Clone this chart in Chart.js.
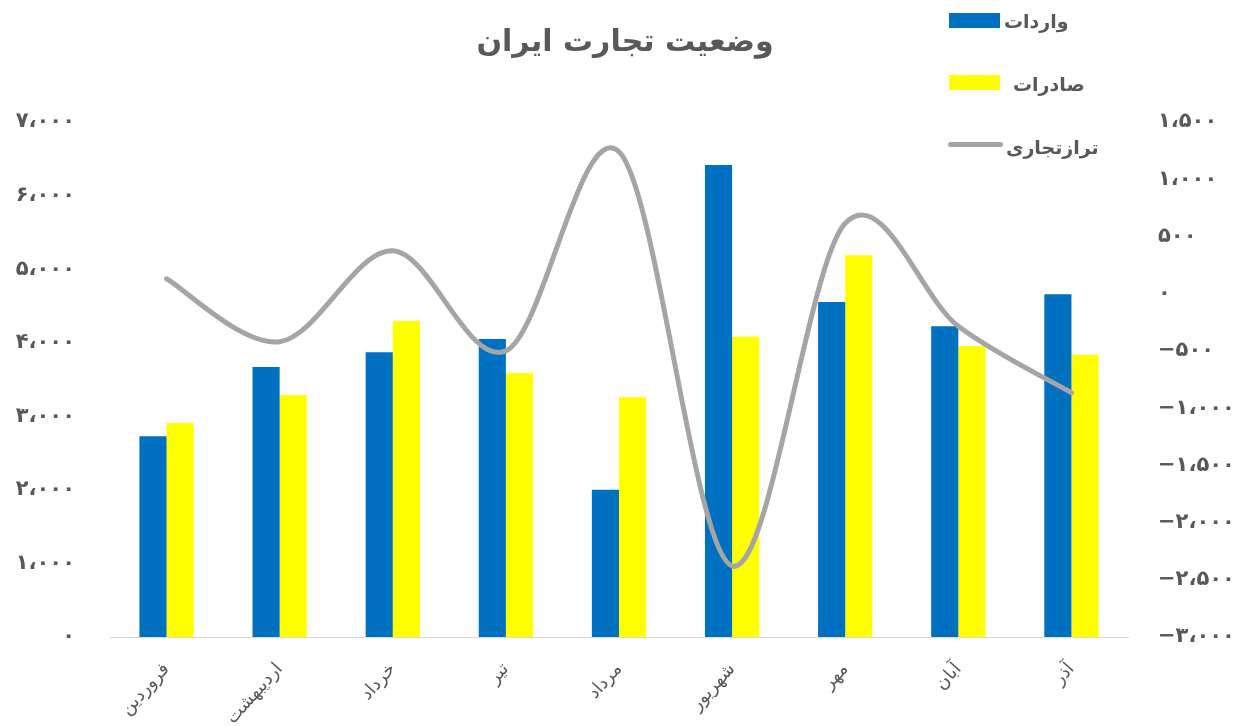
<!DOCTYPE html>
<html><head><meta charset="utf-8">
<script src="https://cdn.jsdelivr.net/npm/chart.js@4"></script>
<style>
html,body{margin:0;padding:0;background:#fff;}
#wrap{position:relative;width:1236px;height:726px;font-family:"DejaVu Sans",sans-serif;}
#title{position:absolute;left:0;width:1250px;top:23px;text-align:center;font-weight:bold;font-size:30px;color:#595959;direction:rtl;}
.lg{position:absolute;font-weight:bold;font-size:19px;color:#595959;direction:rtl;white-space:nowrap;}
.sw{position:absolute;}
canvas{position:absolute;left:0;top:0;}
</style></head>
<body><div id="wrap">
<canvas id="c" width="1236" height="726"></canvas>
<div id="title">وضعیت تجارت ایران</div>
<div class="sw" style="left:949px;top:13px;width:51px;height:15px;background:#0070C0"></div>
<div class="lg" style="left:1004px;top:10px;">واردات</div>
<div class="sw" style="left:949px;top:75px;width:51px;height:15px;background:#FFFF00"></div>
<div class="lg" style="left:1013px;top:73px;">صادرات</div>
<div class="sw" style="left:948px;top:142px;width:55px;height:5px;background:#A5A5A5;border-radius:3px"></div>
<div class="lg" style="left:1006px;top:136px;">ترازتجاری</div>
</div>
<script>
const months = ["فروردین","اردیبهشت","خرداد","تیر","مرداد","شهریور","مهر","آبان","آذر"];
const imports = [2730, 3670, 3870, 4050, 2000, 6415, 4555, 4225, 4660];
const exports_ = [2910, 3290, 4295, 3590, 3260, 4080, 5190, 3955, 3835];
const balance = [130, -420, 375, -500, 1240, -2380, 615, -285, -865];
const seriesNames = ["واردات","صادرات","ترازتجاری"];

const fa = "۰۱۲۳۴۵۶۷۸۹";
function toFa(v){
  const neg = v < 0;
  let s = Math.abs(Math.round(v)).toString();
  s = s.replace(/\B(?=(\d{3})+(?!\d))/g, "،");
  s = s.replace(/\d/g, d => fa[+d]);
  return (neg ? "−" : "") + s;
}
// Excel-like (uniform Catmull-Rom) smoothing of the line
const excelSmooth = {
  id:"excelSmooth",
  beforeDatasetDraw(chart, args){
    const meta = args.meta;
    if (meta.type !== "line") return;
    const line = meta.dataset;
    line.updateControlPoints(chart.chartArea, meta.indexAxis);
    const pts = meta.data, n = pts.length;
    for (let i = 0; i < n; i++){
      const p0 = pts[Math.max(i-1,0)], p1 = pts[i], p2 = pts[Math.min(i+1,n-1)];
      const tx = (p2.x - p0.x)/6, ty = (p2.y - p0.y)/6;
      p1.cp1x = p1.x - tx; p1.cp1y = p1.y - ty;
      p1.cp2x = p1.x + tx; p1.cp2y = p1.y + ty;
    }
  }
};
const grey = "#595959";
new Chart(document.getElementById("c"), {
  data: {
    labels: months,
    datasets: [
      {type:"line", label:seriesNames[2], data:balance, yAxisID:"y1", borderColor:"#A5A5A5", borderWidth:5, pointRadius:0, tension:0.4, order:0, borderCapStyle:"round", borderJoinStyle:"round"},
      {type:"bar", label:seriesNames[0], data:imports, yAxisID:"y", backgroundColor:"#0070C0", categoryPercentage:0.48, barPercentage:1.0, order:1},
      {type:"bar", label:seriesNames[1], data:exports_, yAxisID:"y", backgroundColor:"#FFFF00", categoryPercentage:0.48, barPercentage:1.0, order:2}
    ]
  },
  plugins:[excelSmooth],
  options: {
    responsive:false, animation:false,
    layout:{padding:{top:122, left:0, right:0, bottom:0}},
    plugins:{legend:{display:false}, title:{display:false}, tooltip:{enabled:false}},
    scales:{
      x:{
        grid:{display:false, drawTicks:false},
        border:{display:true, color:"#D9D9D9", width:1},
        ticks:{color:grey, font:{family:"DejaVu Sans", size:18}, minRotation:48, maxRotation:48, padding:22},
        afterFit(s){ s.height = 89; }
      },
      y:{
        position:"left", min:0, max:7000,
        grid:{display:false, drawTicks:false}, border:{display:false},
        ticks:{stepSize:1000, color:grey, font:{family:"DejaVu Sans", size:21, weight:"bold"}, padding:35, callback:v=>toFa(v)},
        afterFit(s){ s.width = 110; }
      },
      y1:{
        position:"right", min:-3000, max:1500,
        grid:{display:false, drawTicks:false}, border:{display:false},
        ticks:{stepSize:500, color:grey, font:{family:"DejaVu Sans", size:21, weight:"bold"}, padding:30, callback:v=>toFa(v)},
        afterFit(s){ s.width = 108; }
      }
    }
  }
});
</script>
</body></html>
